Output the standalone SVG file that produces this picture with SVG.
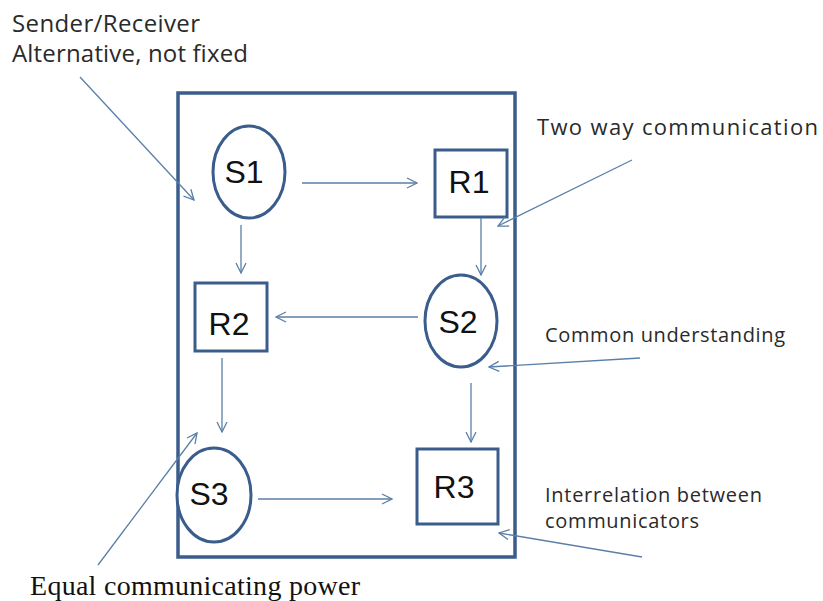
<svg xmlns="http://www.w3.org/2000/svg" width="823" height="601" viewBox="0 0 823 601">
<defs>
<marker id="ah" viewBox="0 0 12 12" refX="11" refY="6" markerWidth="12" markerHeight="12" markerUnits="userSpaceOnUse" orient="auto">
<path d="M1,1 L11,6 L1,11" fill="none" stroke="#5b7fa8" stroke-width="1.3"/>
</marker>
</defs>
<style>
.node{fill:#fff;stroke:#3a5d8c;stroke-width:3}
.frame{fill:none;stroke:#3a5d8c;stroke-width:3.5}
.lbl{font-family:"Liberation Sans",Arial,sans-serif;font-size:32px;fill:#111;text-anchor:middle}
.note{font-family:"Open Sans","Liberation Sans",sans-serif;fill:#2a2a2a}
.serif{font-family:"Liberation Serif","Times New Roman",serif;font-size:28px;fill:#111}
.conn line{stroke:#5b7fa8;stroke-width:1.3;marker-end:url(#ah)}
</style>
<rect width="823" height="601" fill="#fff"/>
<rect id="frame" class="frame" x="178" y="93" width="337" height="464"/>
<g id="S1"><ellipse class="node" cx="249" cy="172" rx="36" ry="46"/><text class="lbl" x="244" y="183">S1</text></g>
<g id="R1"><rect class="node" x="435" y="150" width="72" height="67"/><text class="lbl" x="469" y="193">R1</text></g>
<g id="R2"><rect class="node" x="195" y="283" width="72" height="68"/><text class="lbl" x="229" y="335">R2</text></g>
<g id="S2"><ellipse class="node" cx="461" cy="321" rx="36" ry="46"/><text class="lbl" x="458" y="333">S2</text></g>
<g id="S3"><ellipse class="node" cx="214" cy="495" rx="37" ry="47"/><text class="lbl" x="209" y="505">S3</text></g>
<g id="R3"><rect class="node" x="417" y="449" width="81" height="75"/><text class="lbl" x="454" y="498">R3</text></g>
<g id="connectors" class="conn">
<line x1="302" y1="183" x2="417" y2="183"/>
<line x1="241" y1="225" x2="241" y2="273"/>
<line x1="481" y1="218" x2="481" y2="275"/>
<line x1="418" y1="317" x2="276" y2="317"/>
<line x1="222" y1="358" x2="222" y2="432"/>
<line x1="471" y1="383" x2="471" y2="442"/>
<line x1="258" y1="499" x2="392" y2="499"/>
<line x1="80" y1="77" x2="194" y2="200"/>
<line x1="632" y1="160" x2="498" y2="226"/>
<line x1="640" y1="358" x2="489" y2="367"/>
<line x1="642" y1="557" x2="499" y2="533"/>
<line x1="98" y1="565" x2="197" y2="433"/>
</g>
<g id="notes">
<text class="note" x="12" y="32" font-size="24" textLength="188">Sender/Receiver</text>
<text class="note" x="12" y="62" font-size="24" textLength="236">Alternative, not fixed</text>
<text class="note" x="537" y="135" font-size="22" textLength="281">Two way communication</text>
<text class="note" x="545" y="342" font-size="20" textLength="240">Common understanding</text>
<text class="note" x="545" y="502" font-size="20" textLength="217">Interrelation between</text>
<text class="note" x="545" y="528" font-size="20" textLength="154">communicators</text>
<text class="serif" x="30" y="595" textLength="330">Equal communicating power</text>
</g>
</svg>
